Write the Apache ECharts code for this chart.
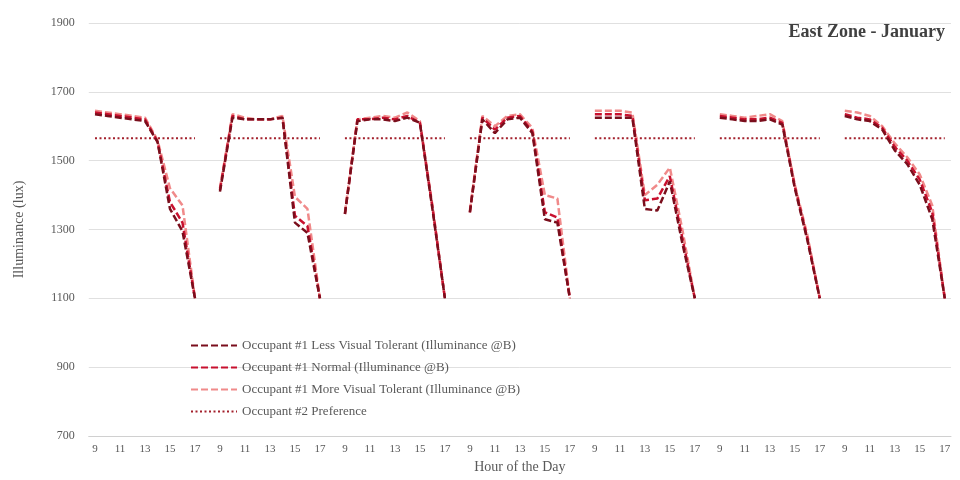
<!DOCTYPE html>
<html>
<head>
<meta charset="utf-8">
<script src="https://cdn.jsdelivr.net/npm/echarts@6/dist/echarts.min.js"></script>
<style>
html,body{margin:0;padding:0;background:#fff;}
#c{width:960px;height:480px;}
</style>
</head>
<body>
<div id="c"></div>
<script>
// Hours of each day block (7 blocks, separated by a blank category)
const hours = ['9','10','11','12','13','14','15','16','17'];
const dayCount = 7;

// Values per day block (hours 9..17)
const lessTolerant = [
  [1635, 1630, 1625, 1620, 1615, 1555, 1360, 1295, 1100],
  [1410, 1625, 1620, 1620, 1620, 1625, 1320, 1290, 1100],
  [1345, 1615, 1620, 1620, 1615, 1625, 1610, 1360, 1100],
  [1350, 1620, 1580, 1620, 1625, 1580, 1330, 1320, 1100],
  [1625, 1625, 1625, 1625, 1360, 1355, 1440, 1260, 1100],
  [1625, 1620, 1615, 1615, 1620, 1605, 1420, 1270, 1100],
  [1630, 1620, 1615, 1590, 1530, 1490, 1430, 1330, 1100]
];
const normal = [
  [1640, 1635, 1630, 1625, 1620, 1555, 1380, 1320, 1100],
  [1415, 1630, 1620, 1620, 1620, 1625, 1340, 1310, 1100],
  [1345, 1620, 1620, 1625, 1620, 1630, 1610, 1365, 1100],
  [1350, 1625, 1590, 1625, 1630, 1585, 1350, 1335, 1100],
  [1635, 1635, 1635, 1630, 1385, 1390, 1455, 1275, 1100],
  [1630, 1625, 1620, 1620, 1625, 1610, 1425, 1275, 1100],
  [1635, 1625, 1620, 1595, 1540, 1500, 1445, 1350, 1100]
];
const moreTolerant = [
  [1645, 1640, 1635, 1630, 1625, 1560, 1420, 1370, 1100],
  [1420, 1635, 1625, 1620, 1620, 1630, 1395, 1360, 1100],
  [1350, 1620, 1625, 1630, 1625, 1640, 1615, 1370, 1100],
  [1355, 1630, 1600, 1630, 1635, 1595, 1400, 1390, 1100],
  [1645, 1645, 1645, 1640, 1400, 1430, 1480, 1300, 1100],
  [1635, 1630, 1625, 1630, 1635, 1615, 1430, 1285, 1100],
  [1645, 1640, 1630, 1600, 1550, 1510, 1460, 1370, 1100]
];
const preference = [1565, 1565, 1565, 1565, 1565, 1565, 1565];

const seriesNames = [
  'Occupant #1 Less Visual Tolerant (Illuminance @B)',
  'Occupant #1 Normal (Illuminance @B)',
  'Occupant #1 More Visual Tolerant (Illuminance @B)',
  'Occupant #2 Preference'
];

// Build category axis & flattened data with blank separators between days
const categories = [];
for (let d = 0; d < dayCount; d++) {
  hours.forEach(h => categories.push(h));
  if (d < dayCount - 1) categories.push('');
}
function flatten(blocks) {
  const out = [];
  blocks.forEach((b, i) => {
    b.forEach(v => out.push(v));
    if (i < blocks.length - 1) out.push(null);
  });
  return out;
}
const prefBlocks = preference.map(v => hours.map(() => v));

const serif = 'Liberation Serif, Times New Roman, serif';
const chart = echarts.init(document.getElementById('c'));

function lineSeries(name, data, color, type, width, z) {
  return {
    name, type: 'line', data,
    symbol: 'none', connectNulls: false, z,
    lineStyle: { color, width, type },
    itemStyle: { color },
    emphasis: { disabled: true }
  };
}

chart.setOption({
  animation: false,
  backgroundColor: '#fff',
  title: {
    text: 'East Zone - January',
    right: 10, top: 18,
    textStyle: { fontFamily: serif, fontWeight: 'bold', fontSize: 18, color: '#404040' }
  },
  legend: {
    orient: 'vertical',
    left: 185, top: 334,
    itemWidth: 46, itemHeight: 12, itemGap: 9,
    itemStyle: { opacity: 0 },
    textStyle: { fontFamily: serif, fontSize: 13, color: '#595959' },
    data: [seriesNames[0], seriesNames[1], seriesNames[2], seriesNames[3]]
  },
  grid: { left: 88.75, right: 9, top: 23, bottom: 44 },
  xAxis: {
    type: 'category',
    data: categories,
    boundaryGap: true,
    name: 'Hour of the Day',
    nameLocation: 'middle',
    nameGap: 22,
    nameTextStyle: { fontFamily: serif, fontSize: 14, color: '#595959' },
    axisLine: { lineStyle: { color: '#d0d0d0' } },
    axisTick: { show: false },
    axisLabel: { interval: 1, fontFamily: serif, fontSize: 11, color: '#595959', margin: 8 }
  },
  yAxis: {
    type: 'value',
    min: 700, max: 1900, interval: 200,
    name: 'Illuminance (lux)',
    nameLocation: 'middle',
    nameGap: 62,
    nameRotate: 90,
    nameTextStyle: { fontFamily: serif, fontSize: 14, color: '#595959' },
    axisLine: { show: false },
    axisTick: { show: false },
    axisLabel: { fontFamily: serif, fontSize: 12, color: '#595959', margin: 14, formatter: v => String(v) },
    splitLine: { lineStyle: { color: '#e0e0e0', width: 1 } }
  },
  series: [
    lineSeries(seriesNames[3], flatten(prefBlocks), '#a3202c', [2, 2.5], 2, 1),
    lineSeries(seriesNames[2], flatten(moreTolerant), '#f08a8a', [7, 3], 2.5, 2),
    lineSeries(seriesNames[1], flatten(normal), '#c8102e', [7, 3], 2.5, 3),
    lineSeries(seriesNames[0], flatten(lessTolerant), '#7a0e1c', [7, 3], 2.5, 4)
  ]
});
</script>
</body>
</html>
